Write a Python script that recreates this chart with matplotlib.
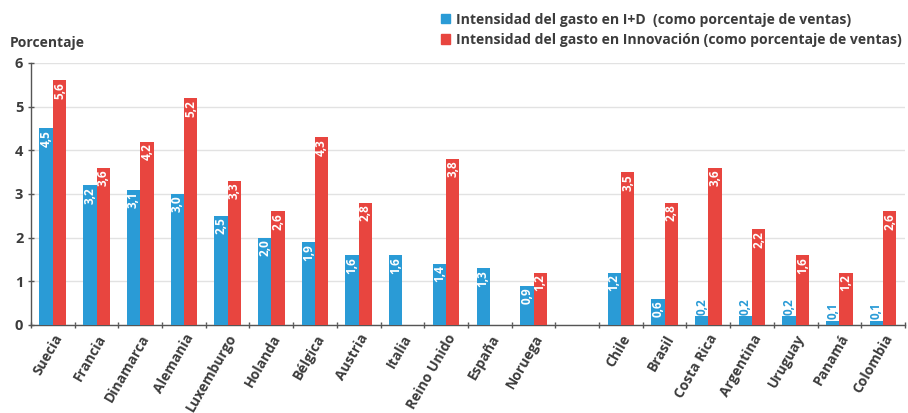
import numpy as np
import matplotlib
matplotlib.use("Agg")
import matplotlib.pyplot as plt
from matplotlib.patches import Patch

plt.rcParams['font.family'] = ['Open Sans', 'DejaVu Sans']

europe = ["Suecia", "Francia", "Dinamarca", "Alemania", "Luxemburgo", "Holanda",
          "Bélgica", "Austria", "Italia", "Reino Unido", "España", "Noruega"]
latam = ["Chile", "Brasil", "Costa Rica", "Argentina", "Uruguay", "Panamá", "Colombia"]

id_europe = [4.5, 3.2, 3.1, 3.0, 2.5, 2.0, 1.9, 1.6, 1.6, 1.4, 1.3, 0.9]
inn_europe = [5.6, 3.6, 4.2, 5.2, 3.3, 2.6, 4.3, 2.8, None, 3.8, None, 1.2]
id_latam = [1.2, 0.6, 0.2, 0.2, 0.2, 0.1, 0.1]
inn_latam = [3.5, 2.8, 3.6, 2.2, 1.6, 1.2, 2.6]

yticks = [0, 1, 2, 3, 4, 5, 6]
legend_labels = ["Intensidad del gasto en I+D  (como porcentaje de ventas)",
                 "Intensidad del gasto en Innovación (como porcentaje de ventas)"]

BLUE = "#2a9bd6"
RED = "#e8453f"
TEXT = "#3c3c3c"

# one empty slot separates the two groups of countries
names = europe + latam
slots = list(range(len(europe))) + [len(europe) + 1 + i for i in range(len(latam))]
id_vals = id_europe + id_latam
inn_vals = inn_europe + inn_latam
nslots = len(europe) + 1 + len(latam)

fig = plt.figure(figsize=(9.08, 4.13), dpi=100)
ax = fig.add_axes([0.0341, 0.2131, 0.9626, 0.6344])

w = 0.305
centers = np.array(slots) + 0.5


def fmt(v):
    return f"{v:.1f}".replace(".", ",")


for c, v_id, v_inn in zip(centers, id_vals, inn_vals):
    ax.bar(c - w / 2, v_id, width=w, color=BLUE, zorder=3)
    if v_id >= 0.5:
        ax.text(c - w / 2, v_id - 0.04, fmt(v_id), rotation=90, ha="center", va="top",
                color="white", fontsize=8.5, fontweight="bold", zorder=4)
    else:
        ax.text(c - w / 2, v_id + 0.04, fmt(v_id), rotation=90, ha="center", va="bottom",
                color=BLUE, fontsize=8.5, fontweight="bold", zorder=4)
    if v_inn is not None:
        ax.bar(c + w / 2, v_inn, width=w, color=RED, zorder=3)
        ax.text(c + w / 2, v_inn - 0.04, fmt(v_inn), rotation=90, ha="center", va="top",
                color="white", fontsize=8.5, fontweight="bold", zorder=4)

ax.set_xlim(0, nslots)
ax.set_ylim(0, 6)
ax.set_yticks(yticks)
ax.set_yticklabels([str(t) for t in yticks], fontsize=10.5, fontweight="bold", color=TEXT)
ax.grid(axis="y", color="#e2e2e2", linewidth=1, zorder=0)

ax.set_xticks(centers)
ax.set_xticklabels(names, rotation=60, ha="right", rotation_mode="anchor",
                   fontsize=10, fontweight="bold", color=TEXT)
ax.tick_params(axis="x", which="major", length=0, pad=5)
ax.set_xticks(np.arange(0, nslots + 1), minor=True)
ax.tick_params(axis="x", which="minor", length=5, direction="inout", color="#555555", width=1)
ax.tick_params(axis="y", length=5, direction="inout", color="#555555", width=1, pad=3)

for s in ["top", "right"]:
    ax.spines[s].set_visible(False)
for s in ["left", "bottom"]:
    ax.spines[s].set_color("#555555")
    ax.spines[s].set_linewidth(1)

fig.text(0.011, 0.895, "Porcentaje", fontsize=10, fontweight="bold", color=TEXT,
         ha="left", va="center")

handles = [Patch(color=BLUE), Patch(color=RED)]
leg = fig.legend(handles, legend_labels, loc="upper left", bbox_to_anchor=(0.472, 1.0),
                 frameon=False, handlelength=0.65, handleheight=0.65, handletextpad=0.4,
                 labelspacing=0.45, prop={"size": 10.1, "weight": "bold"})
for t in leg.get_texts():
    t.set_color(TEXT)

fig.savefig("out.png", dpi=100)
